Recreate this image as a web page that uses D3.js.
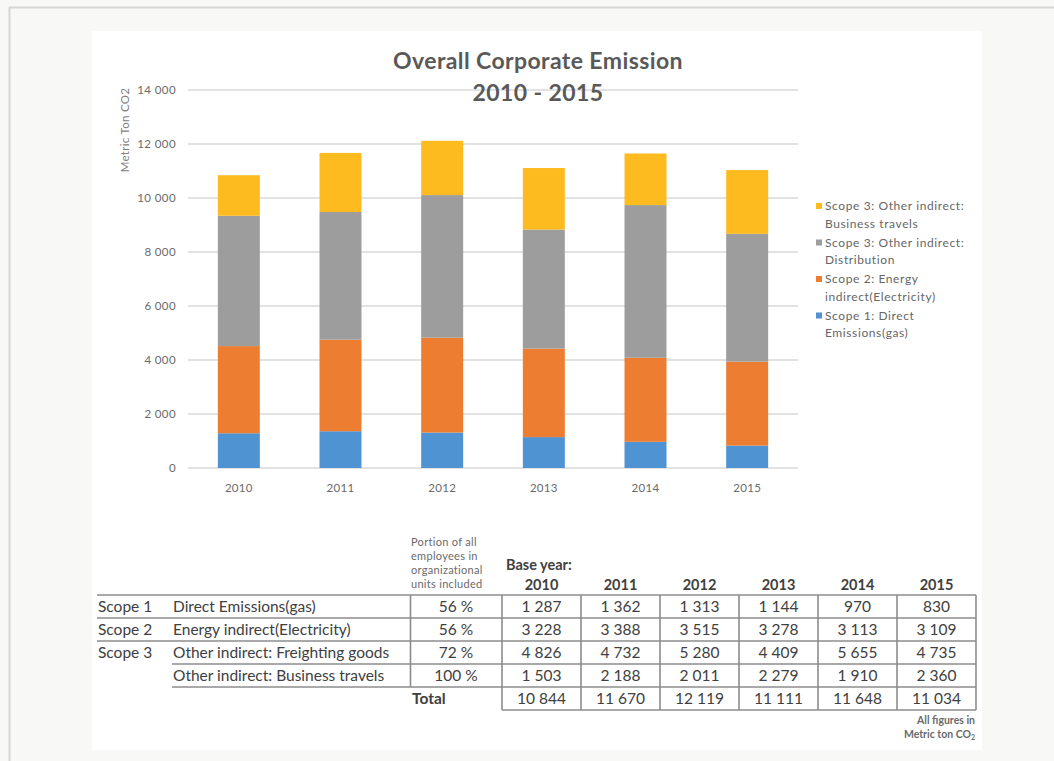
<!DOCTYPE html>
<html><head><meta charset="utf-8">
<script src="https://cdn.jsdelivr.net/npm/d3@7"></script>
<style>
html,body{margin:0;padding:0;background:#f8f8f6;}
svg{display:block;}
</style></head>
<body>
<svg id="c" width="1054" height="761"></svg>
<script>
// ---------- DATA ----------
const years = ["2010","2011","2012","2013","2014","2015"];
const scope1Direct = [1287,1362,1313,1144,970,830];
const scope2Energy = [3228,3388,3515,3278,3113,3109];
const scope3Freight = [4826,4732,5280,4409,5655,4735];
const scope3Travel = [1503,2188,2011,2279,1910,2360];
const totals = [10844,11670,12119,11111,11648,11034];
const yTicks = [0,2000,4000,6000,8000,10000,12000,14000];
const seriesKeys = ["s1","s2","s3f","s3t"];
const seriesColors = ["#4f93d2","#ed7d31","#9d9d9d","#fdbb1f"];
const legendLabels = [
  ["Scope 3: Other indirect:","Business travels"],
  ["Scope 3: Other indirect:","Distribution"],
  ["Scope 2: Energy","indirect(Electricity)"],
  ["Scope 1: Direct","Emissions(gas)"]
];
const legendColors = ["#fdbb1f","#9d9d9d","#ed7d31","#4f93d2"];
const rowScopes = ["Scope 1","Scope 2","Scope 3",""];
const rowNames = ["Direct Emissions(gas)","Energy indirect(Electricity)","Other indirect: Freighting goods","Other indirect: Business travels"];
const portions = ["56 %","56 %","72 %","100 %"];
const portionHeader = ["Portion of all","employees in","organizational","units included"];

// ---------- SETUP ----------
const svg = d3.select("#c");
const font = "Lato, 'Liberation Sans', sans-serif";
const txt = "#595959";

// page frame
svg.append("line").attr("x1",9).attr("x2",1054).attr("y1",7.5).attr("y2",7.5).attr("stroke","#d6d6d4").attr("stroke-width",2);
svg.append("line").attr("x1",9.5).attr("x2",9.5).attr("y1",7).attr("y2",761).attr("stroke","#d6d6d4").attr("stroke-width",2);
svg.append("rect").attr("x",92).attr("y",31).attr("width",890).attr("height",719).attr("fill","#ffffff");

// ---------- CHART ----------
const x = d3.scaleBand().domain(years).range([188,798]).paddingInner(0.587).paddingOuter(0.2935);
const y = d3.scaleLinear().domain([0,14000]).range([468,90]);

const fmt = v => d3.format(",")(v).replace(/,/g," ");

// gridlines
svg.append("g").selectAll("line").data(yTicks).join("line")
  .attr("x1",188).attr("x2",798)
  .attr("y1",d=>y(d)).attr("y2",d=>y(d))
  .attr("stroke","#d9d9d9").attr("stroke-width",1.5);

// y axis labels via axis
const yAxis = svg.append("g").attr("transform","translate(184,0)")
  .call(d3.axisLeft(y).tickValues(yTicks).tickFormat(fmt).tickSize(0).tickPadding(8));
yAxis.select(".domain").remove();
yAxis.selectAll("text").attr("font-family",font).attr("font-size",11.5).attr("fill","#6a6a6a").attr("letter-spacing",0.4);

// x axis labels
const xAxis = svg.append("g").attr("transform","translate(0,478)")
  .call(d3.axisBottom(x).tickSize(0).tickPadding(6));
xAxis.select(".domain").remove();
xAxis.selectAll("text").attr("font-family",font).attr("font-size",11.5).attr("fill","#6a6a6a").attr("letter-spacing",0.3);

// y title
svg.append("text").attr("transform","translate(129,130) rotate(-90)")
  .attr("text-anchor","middle").attr("font-family",font).attr("font-size",11.5).attr("letter-spacing",0.3).attr("fill","#7f7f7f")
  .text("Metric Ton CO2");

// stacked bars
const rows = years.map((yr,i)=>({year:yr,s1:scope1Direct[i],s2:scope2Energy[i],s3f:scope3Freight[i],s3t:scope3Travel[i]}));
const stack = d3.stack().keys(seriesKeys)(rows);
svg.append("g").selectAll("g").data(stack).join("g")
  .attr("fill",(d,i)=>seriesColors[i])
  .selectAll("rect").data(d=>d).join("rect")
  .attr("x",d=>x(d.data.year)).attr("width",x.bandwidth())
  .attr("y",d=>y(d[1])).attr("height",d=>y(d[0])-y(d[1]));

// title
svg.append("text").attr("x",538).attr("y",69).attr("text-anchor","middle")
  .attr("font-family",font).attr("font-weight","bold").attr("font-size",23).attr("letter-spacing",0.4).attr("fill",txt)
  .text("Overall Corporate Emission");
svg.append("text").attr("x",538).attr("y",101).attr("text-anchor","middle")
  .attr("font-family",font).attr("font-weight","bold").attr("font-size",23).attr("letter-spacing",0.4).attr("fill",txt)
  .text("2010 - 2015");

// legend
const lg = svg.append("g");
legendLabels.forEach((lab,i)=>{
  const ly = 210 + i*36.5;
  lg.append("rect").attr("x",816).attr("y",ly-7).attr("width",6).attr("height",6).attr("fill",legendColors[i]);
  lab.forEach((t,j)=>{
    lg.append("text").attr("x",825).attr("y",ly+j*17.5).attr("font-family",font).attr("font-size",12)
      .attr("letter-spacing",0.6).attr("fill","#666").text(t);
  });
});

// ---------- TABLE ----------
const tcol = "#404040";
const lineCol = "#8c8c8c";
const rowTop = 595, rowH = 23;
const colX = d3.scaleBand().domain(years).range([502,976]);
const t = svg.append("g");

function hline(x1,x2,yy){ t.append("line").attr("x1",x1).attr("x2",x2).attr("y1",yy).attr("y2",yy).attr("stroke",lineCol).attr("stroke-width",1.6); }
function vline(xx,y1,y2){ t.append("line").attr("x1",xx).attr("x2",xx).attr("y1",y1).attr("y2",y2).attr("stroke",lineCol).attr("stroke-width",1.6); }

hline(97,976,rowTop);
hline(97,976,rowTop+rowH);
hline(97,976,rowTop+2*rowH);
hline(172,976,rowTop+3*rowH);
hline(172,976,rowTop+4*rowH);
hline(502,976,rowTop+5*rowH);
vline(410.5,rowTop,rowTop+4*rowH);
years.forEach(yr=>vline(colX(yr),rowTop,rowTop+5*rowH));
vline(976,rowTop,rowTop+5*rowH);

// header
portionHeader.forEach((h,i)=>{
  t.append("text").attr("x",411).attr("y",546+i*14).attr("font-family",font).attr("font-size",11)
    .attr("letter-spacing",0.3).attr("fill","#6a6a6a").text(h);
});
t.append("text").attr("x",506).attr("y",570).attr("font-family",font).attr("font-weight","bold").attr("font-size",14.5).attr("fill",tcol).text("Base year:");
years.forEach(yr=>{
  t.append("text").attr("x",colX(yr)+colX.bandwidth()/2).attr("y",590).attr("text-anchor","middle")
    .attr("font-family",font).attr("font-weight","bold").attr("font-size",14.5).attr("fill",tcol).text(yr);
});

// body rows
const fs = 15.5;
const seriesVals = [scope1Direct,scope2Energy,scope3Freight,scope3Travel];
rowNames.forEach((nm,r)=>{
  const by = rowTop + r*rowH + 17;
  if(rowScopes[r]) t.append("text").attr("x",98).attr("y",by).attr("font-family",font).attr("font-size",fs).attr("fill",tcol).text(rowScopes[r]);
  t.append("text").attr("x",173).attr("y",by).attr("font-family",font).attr("font-size",fs).attr("fill",tcol).text(nm);
  t.append("text").attr("x",456).attr("y",by).attr("text-anchor","middle").attr("font-family",font).attr("font-size",fs).attr("fill",tcol).text(portions[r]);
  years.forEach((yr,i)=>{
    t.append("text").attr("x",colX(yr)+colX.bandwidth()/2).attr("y",by).attr("text-anchor","middle")
      .attr("font-family",font).attr("font-size",fs).attr("fill",tcol).text(fmt(seriesVals[r][i]));
  });
});
// total
const ty = rowTop + 4*rowH + 17;
t.append("text").attr("x",412).attr("y",ty).attr("font-family",font).attr("font-weight","bold").attr("font-size",fs).attr("fill",tcol).text("Total");
years.forEach((yr,i)=>{
  t.append("text").attr("x",colX(yr)+colX.bandwidth()/2).attr("y",ty).attr("text-anchor","middle")
    .attr("font-family",font).attr("font-size",fs).attr("fill",tcol).text(fmt(totals[i]));
});
// note
t.append("text").attr("x",975).attr("y",724).attr("text-anchor","end").attr("font-family",font).attr("font-weight","bold").attr("font-size",10.5).attr("fill","#6a6a6a").text("All figures in");
const n2 = t.append("text").attr("x",975).attr("y",738).attr("text-anchor","end").attr("font-family",font).attr("font-weight","bold").attr("font-size",10.5).attr("fill","#6a6a6a");
n2.append("tspan").text("Metric ton CO");
n2.append("tspan").attr("font-size",7).attr("dy",2).text("2");
</script>
</body></html>
